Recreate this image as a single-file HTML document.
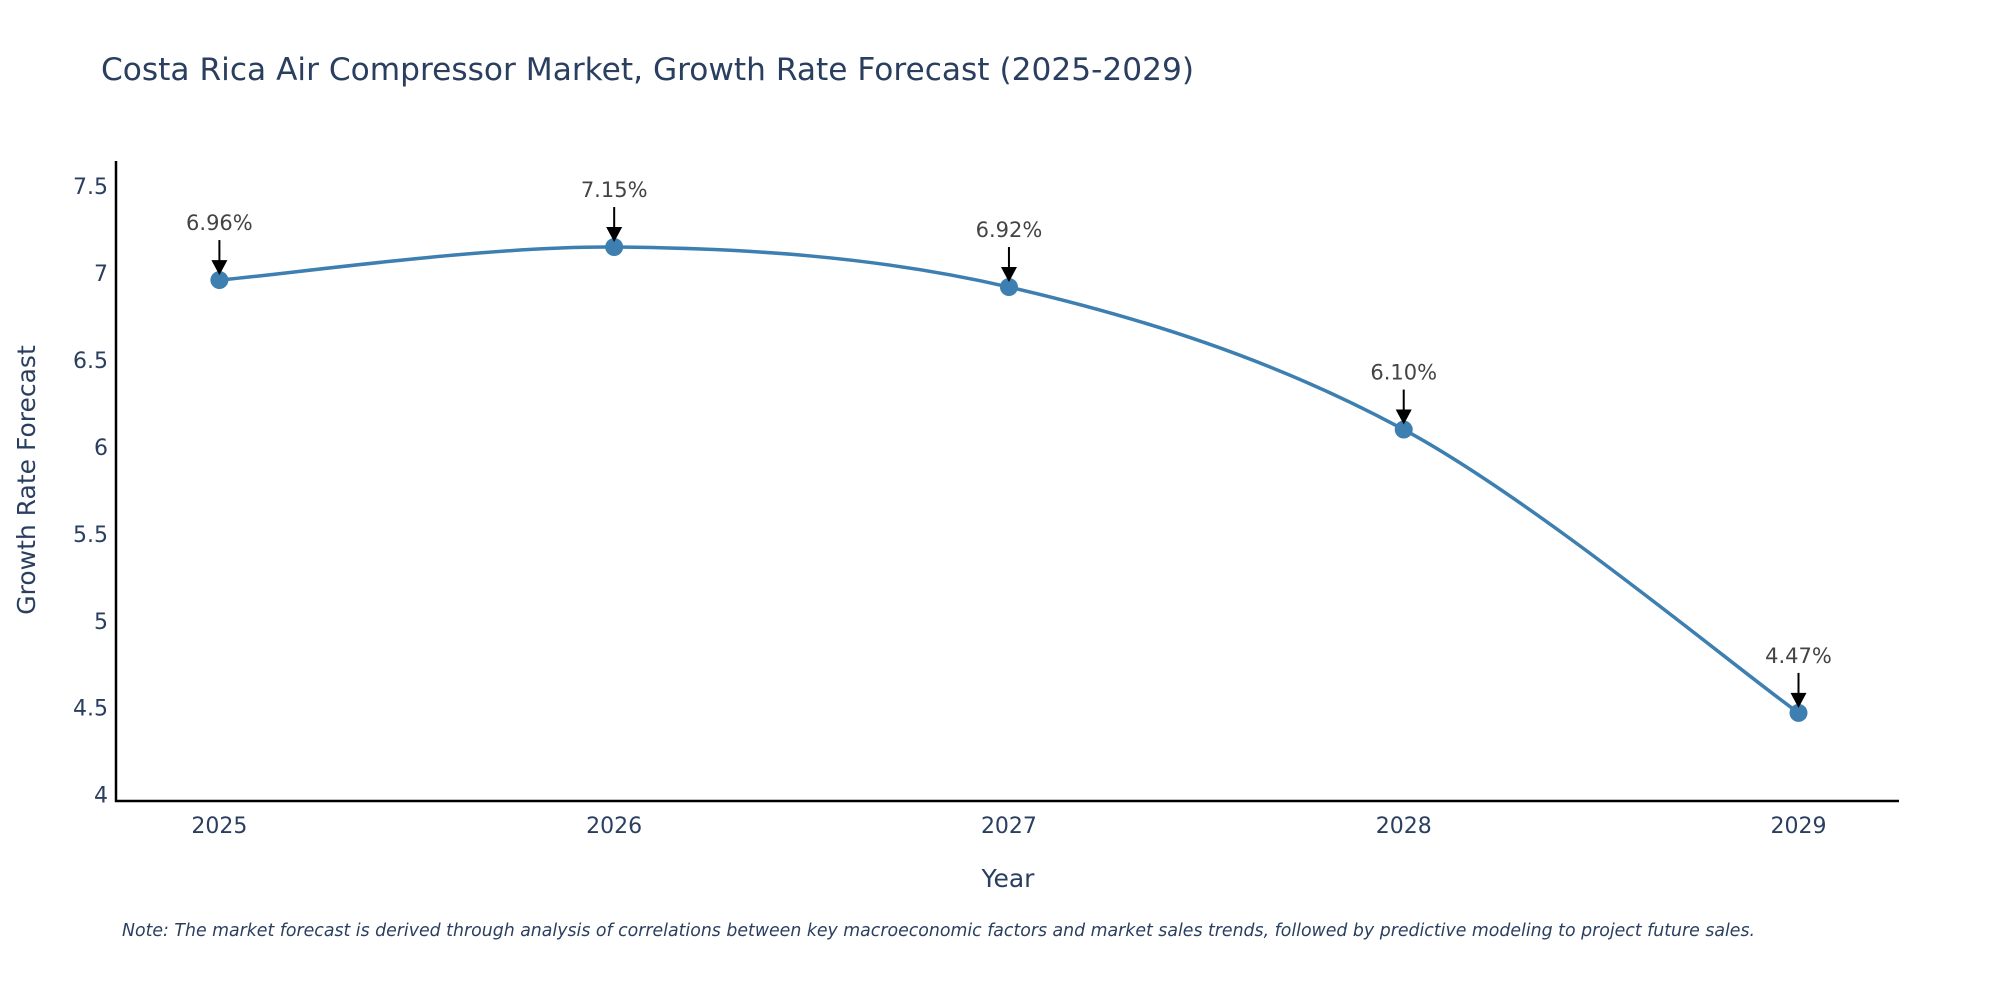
<!DOCTYPE html>
<html><head><meta charset="utf-8"><style>
html,body{margin:0;padding:0;background:#fff;}
svg text{font-family:"DejaVu Sans","Liberation Sans",sans-serif;}
</style></head><body>
<svg id="chart" width="2000" height="1000" viewBox="0 0 2000 1000" xmlns="http://www.w3.org/2000/svg">
<rect width="2000" height="1000" fill="#fff"/>
<text x="101" y="80" font-size="31" fill="#2a3f5f" textLength="1093" lengthAdjust="spacingAndGlyphs">Costa Rica Air Compressor Market, Growth Rate Forecast (2025-2029)</text>
<g id="yticks"></g>
<g id="xticks"></g>
<line x1="116" y1="161" x2="116" y2="802" stroke="#000" stroke-width="2.5"/>
<line x1="115" y1="801" x2="1899" y2="801" stroke="#000" stroke-width="2.5"/>
<path id="line" fill="none" stroke="#3d7fb0" stroke-width="3.5"/>
<g id="marks"></g>
<text x="1008" y="887" font-size="25" fill="#2a3f5f" text-anchor="middle">Year</text>
<text x="0" y="0" font-size="25" fill="#2a3f5f" text-anchor="middle" transform="translate(35,480) rotate(-90)">Growth Rate Forecast</text>
<text x="122" y="936" font-size="18" font-style="italic" fill="#2a3f5f" textLength="1633" lengthAdjust="spacingAndGlyphs">Note: The market forecast is derived through analysis of correlations between key macroeconomic factors and market sales trends, followed by predictive modeling to project future sales.</text>
</svg>
<script>
const years = [2025, 2026, 2027, 2028, 2029];
const growthRates = [6.96, 7.15, 6.92, 6.10, 4.47];
const valueLabels = ["6.96%", "7.15%", "6.92%", "6.10%", "4.47%"];
const yTickValues = [4, 4.5, 5, 5.5, 6, 6.5, 7, 7.5];
const yTickLabels = ["4", "4.5", "5", "5.5", "6", "6.5", "7", "7.5"];

const NS = "http://www.w3.org/2000/svg";
const xScale = y => 219.4 + (y - 2025) * (1798.5 - 219.4) / 4;
const yScale = v => 794.6 - (v - 4) * (794.6 - 186.2) / 3.5;
function mk(tag, attrs, parent, txt){const e=document.createElementNS(NS,tag);for(const k in attrs)e.setAttribute(k,attrs[k]);if(txt!==undefined)e.textContent=txt;parent.appendChild(e);return e;}

const yt = document.getElementById('yticks');
yTickValues.forEach((v,i)=>{
  const t = mk('text',{x:108,y:yScale(v)+8,'font-size':22,fill:'#2a3f5f','text-anchor':'end'},yt,yTickLabels[i]);
  
  
});
const xt = document.getElementById('xticks');
years.forEach(y=>{
  const t = mk('text',{x:xScale(y),y:833,'font-size':22,fill:'#2a3f5f','text-anchor':'middle'},xt,String(y));
  
  
});

const pts = years.map((y,i)=>[xScale(y), yScale(growthRates[i])]);
let d = `M${pts[0][0]},${pts[0][1]}`;
const tension = 1/6;
for(let i=0;i<pts.length-1;i++){
  const p0=pts[Math.max(i-1,0)],p1=pts[i],p2=pts[i+1],p3=pts[Math.min(i+2,pts.length-1)];
  const c1=[p1[0]+(p2[0]-p0[0])*tension,p1[1]+(p2[1]-p0[1])*tension];
  const c2=[p2[0]-(p3[0]-p1[0])*tension,p2[1]-(p3[1]-p1[1])*tension];
  d+=` C${c1[0]},${c1[1]} ${c2[0]},${c2[1]} ${p2[0]},${p2[1]}`;
}
document.getElementById('line').setAttribute('d',d);

const mg = document.getElementById('marks');
pts.forEach((p,i)=>{
  const c = mk('circle',{cx:p[0],cy:p[1],r:9,fill:'#3d7fb0'},mg);
  
  
  const l = mk('line',{x1:p[0],y1:p[1]-40,x2:p[0],y2:p[1]-18,stroke:'#000','stroke-width':2},mg);
  
  
  const h = mk('polygon',{points:`${p[0]-8},${p[1]-20} ${p[0]+8},${p[1]-20} ${p[0]},${p[1]-5}`,fill:'#000'},mg);
  
  
  const t = mk('text',{x:p[0],y:p[1]-50,'font-size':21,fill:'#444','text-anchor':'middle'},mg,valueLabels[i]);
  
  
});
</script>
</body></html>
